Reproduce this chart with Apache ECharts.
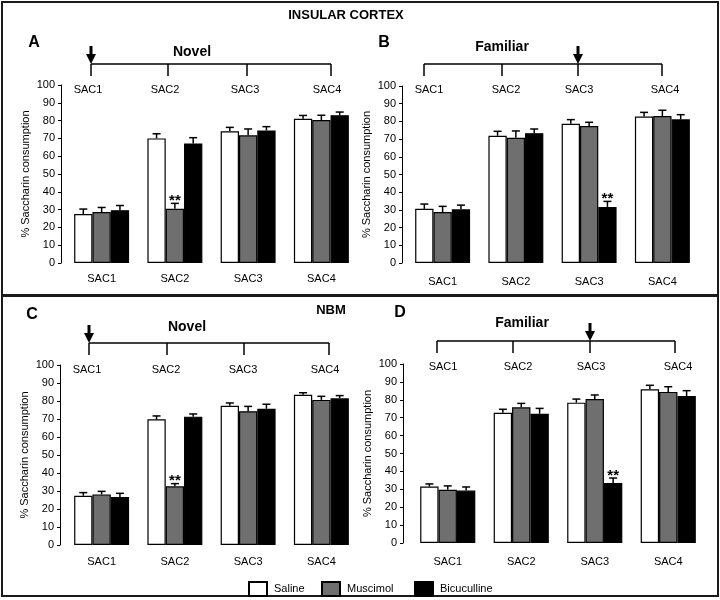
<!DOCTYPE html>
<html>
<head>
<meta charset="utf-8">
<script src="https://cdn.jsdelivr.net/npm/echarts@6/dist/echarts.min.js"></script>
<style>html,body{margin:0;padding:0;background:#fff}#c{width:720px;height:600px}</style>
</head>
<body>
<div id="c"></div>
<script>
// ---------- DATA ----------
const categories = ['SAC1', 'SAC2', 'SAC3', 'SAC4'];
const treatments = ['Saline', 'Muscimol', 'Bicuculline'];
const yMin = 0, yMax = 100, yStep = 10;

// Panel A - Insular cortex, Novel
const salineA = [27.5, 70.0, 74.0, 81.0];
const muscimolA = [28.6, 30.5, 71.7, 80.3];
const bicucullineA = [29.7, 67.2, 74.5, 83.0];
const salineErrA = [2.8, 2.6, 2.2, 1.9];
const muscimolErrA = [2.6, 3.0, 3.6, 2.7];
const bicucullineErrA = [2.6, 3.2, 2.1, 1.8];
const sigA = [[1, 1]]; // [treatment index, category index]

// Panel B - Insular cortex, Familiar
const salineB = [30.6, 71.9, 78.7, 82.7];
const muscimolB = [28.8, 70.8, 77.4, 83.0];
const bicucullineB = [30.3, 73.3, 31.6, 81.2];
const salineErrB = [2.7, 2.5, 2.3, 2.4];
const muscimolErrB = [3.2, 3.8, 2.1, 3.3];
const bicucullineErrB = [2.4, 2.4, 3.2, 2.6];
const sigB = [[2, 2]];

// Panel C - NBM, Novel
const salineC = [27.4, 69.8, 77.4, 83.5];
const muscimolC = [28.1, 32.6, 74.3, 80.6];
const bicucullineC = [26.7, 71.3, 75.7, 81.5];
const salineErrC = [1.7, 1.9, 1.5, 1.1];
const muscimolErrC = [1.7, 1.5, 2.7, 2.0];
const bicucullineErrC = [2.0, 1.5, 2.5, 1.5];
const sigC = [[1, 1]];

// Panel D - NBM, Familiar
const salineD = [31.5, 72.8, 78.4, 85.9];
const muscimolD = [29.7, 75.8, 80.4, 84.4];
const bicucullineD = [29.3, 72.2, 33.5, 82.1];
const salineErrD = [1.5, 1.9, 2.0, 2.2];
const muscimolErrD = [2.2, 2.2, 2.3, 2.9];
const bicucullineErrD = [2.0, 3.0, 2.8, 3.0];
const sigD = [[2, 2]];

// ---------- LAYOUT / STYLE ----------
const FONT = "'Liberation Sans', Arial, sans-serif";
const colors = ['#ffffff', '#6f6f6f', '#000000'];
const panels = [
  { vals: [salineA, muscimolA, bicucullineA], errs: [salineErrA, muscimolErrA, bicucullineErrA], sig: sigA,
    grid: { left: 65, top: 85, width: 293, height: 178 }, yOff: 4, labelMargin: 10 },
  { vals: [salineB, muscimolB, bicucullineB], errs: [salineErrB, muscimolErrB, bicucullineErrB], sig: sigB,
    grid: { left: 406, top: 86, width: 293, height: 177 }, yOff: 4, labelMargin: 13 },
  { vals: [salineC, muscimolC, bicucullineC], errs: [salineErrC, muscimolErrC, bicucullineErrC], sig: sigC,
    grid: { left: 65, top: 365, width: 293, height: 180 }, yOff: 5, labelMargin: 11 },
  { vals: [salineD, muscimolD, bicucullineD], errs: [salineErrD, muscimolErrD, bicucullineErrD], sig: sigD,
    grid: { left: 411, top: 364, width: 294, height: 179 }, yOff: 8, labelMargin: 13 }
];
const CAT_GAP = 0.25;

// timelines (decoration above each panel)
const timelines = [
  { y: 64, drop: 12, ticks: [91, 168, 247, 331], arrow: 91, labels: [88, 165, 245, 327], labelY: 90,
    title: 'Novel', titleX: 192, titleY: 52, letter: 'A', letterX: 34, letterY: 43 },
  { y: 64, drop: 12, ticks: [424, 502, 578, 662], arrow: 578, labels: [429, 506, 579, 665], labelY: 90,
    title: 'Familiar', titleX: 502, titleY: 47, letter: 'B', letterX: 384, letterY: 43 },
  { y: 343, drop: 12, ticks: [89, 167, 244, 329], arrow: 89, labels: [87, 166, 243, 325], labelY: 370,
    title: 'Novel', titleX: 187, titleY: 327, letter: 'C', letterX: 32, letterY: 315 },
  { y: 341, drop: 12, ticks: [437, 513, 590, 675], arrow: 590, labels: [443, 518, 591, 678], labelY: 367,
    title: 'Familiar', titleX: 522, titleY: 323, letter: 'D', letterX: 400, letterY: 313 }
];

// ---------- BUILD ----------
const grids = [], xAxes = [], yAxes = [], series = [];
panels.forEach((p, pi) => {
  grids.push(Object.assign({ containLabel: false }, p.grid));
  xAxes.push({
    type: 'category', gridIndex: pi, data: categories,
    axisLine: { show: false }, axisTick: { show: false },
    axisLabel: { color: '#000', fontFamily: FONT, fontSize: 11, margin: p.labelMargin }
  });
  yAxes.push({
    type: 'value', gridIndex: pi, min: yMin, max: yMax, interval: yStep, offset: p.yOff,
    name: '% Saccharin consumption', nameLocation: 'middle', nameGap: 30,
    nameTextStyle: { color: '#000', fontFamily: FONT, fontSize: 11 },
    axisLine: { show: true, lineStyle: { color: '#000', width: 1 } },
    axisTick: { show: true, length: 3, lineStyle: { color: '#000' } },
    axisLabel: { color: '#000', fontFamily: FONT, fontSize: 11, margin: 6 },
    splitLine: { show: false }
  });
  treatments.forEach((t, ti) => {
    series.push({
      name: t, type: 'bar', xAxisIndex: pi, yAxisIndex: pi,
      data: p.vals[ti], barGap: '0%', barCategoryGap: (CAT_GAP * 100) + '%',
      itemStyle: { color: colors[ti], borderColor: '#000', borderWidth: 1.2 },
      emphasis: { disabled: true }, silent: true
    });
  });
  treatments.forEach((t, ti) => {
    const data = p.vals[ti].map((v, ci) => {
      const star = p.sig.some(s => s[0] === ti && s[1] === ci) ? 1 : 0;
      return [ci, v, p.errs[ti][ci], star];
    });
    series.push({
      type: 'custom', xAxisIndex: pi, yAxisIndex: pi, data: data, silent: true, z: 5,
      encode: { x: 0, y: 1 },
      renderItem: function (params, api) {
        const ci = api.value(0), v = api.value(1), e = api.value(2), s = api.value(3);
        const base = api.coord([ci, v]);
        const top = api.coord([ci, v + e]);
        const band = api.size([1, 0])[0];
        const bw = band * (1 - CAT_GAP) / 3;
        const x = base[0] + (ti - 1) * bw;
        const st = { stroke: '#000', lineWidth: 1.5 };
        const children = [
          { type: 'line', shape: { x1: x, y1: base[1], x2: x, y2: top[1] }, style: st },
          { type: 'line', shape: { x1: x - 4, y1: top[1], x2: x + 4, y2: top[1] }, style: st }
        ];
        if (s) {
          children.push({ type: 'text', style: { text: '**', x: x, y: top[1] + 5, align: 'center', verticalAlign: 'bottom',
            fill: '#000', font: 'bold 15px ' + FONT } });
        }
        return { type: 'group', children: children };
      }
    });
  });
});

const graphic = [
  { type: 'rect', shape: { x: 2, y: 2, width: 716, height: 293 }, style: { fill: 'none', stroke: '#1a1a1a', lineWidth: 2 }, silent: true },
  { type: 'rect', shape: { x: 2, y: 296, width: 716, height: 300 }, style: { fill: 'none', stroke: '#1a1a1a', lineWidth: 2 }, silent: true },
  { type: 'text', style: { text: 'INSULAR CORTEX', x: 346, y: 15, align: 'center', verticalAlign: 'middle', font: 'bold 13px ' + FONT, fill: '#000' } },
  { type: 'text', style: { text: 'NBM', x: 331, y: 310, align: 'center', verticalAlign: 'middle', font: 'bold 13px ' + FONT, fill: '#000' } }
];
timelines.forEach(tl => {
  graphic.push({ type: 'line', shape: { x1: tl.ticks[0], y1: tl.y, x2: tl.ticks[3], y2: tl.y }, style: { stroke: '#000', lineWidth: 1.5 } });
  tl.ticks.forEach(x => graphic.push({ type: 'line', shape: { x1: x, y1: tl.y, x2: x, y2: tl.y + tl.drop }, style: { stroke: '#000', lineWidth: 1.5 } }));
  tl.labels.forEach((x, i) => graphic.push({ type: 'text', style: { text: categories[i], x: x, y: tl.labelY, align: 'center', verticalAlign: 'middle', font: '11px ' + FONT, fill: '#000' } }));
  graphic.push({ type: 'rect', shape: { x: tl.arrow - 1.5, y: tl.y - 18, width: 3, height: 10 }, style: { fill: '#000' } });
  graphic.push({ type: 'polygon', shape: { points: [[tl.arrow - 5, tl.y - 10], [tl.arrow + 5, tl.y - 10], [tl.arrow, tl.y]] }, style: { fill: '#000' } });
  graphic.push({ type: 'text', style: { text: tl.title, x: tl.titleX, y: tl.titleY, align: 'center', verticalAlign: 'middle', font: 'bold 14px ' + FONT, fill: '#000' } });
  graphic.push({ type: 'text', style: { text: tl.letter, x: tl.letterX, y: tl.letterY, align: 'center', verticalAlign: 'middle', font: 'bold 16px ' + FONT, fill: '#000' } });
});

const legendLefts = [243, 316, 409];
const legends = treatments.map((t, i) => ({
  data: [t], left: legendLefts[i], top: 576, orient: 'horizontal', icon: 'rect',
  itemWidth: 18, itemHeight: 14, selectedMode: false,
  textStyle: { color: '#000', fontFamily: FONT, fontSize: 11, padding: [0, 0, 0, 2] }
}));

const chart = echarts.init(document.getElementById('c'), null, { renderer: 'canvas' });
chart.setOption({
  backgroundColor: '#fff',
  animation: false,
  grid: grids, xAxis: xAxes, yAxis: yAxes, series: series,
  legend: legends,
  graphic: graphic
});
</script>
</body>
</html>
